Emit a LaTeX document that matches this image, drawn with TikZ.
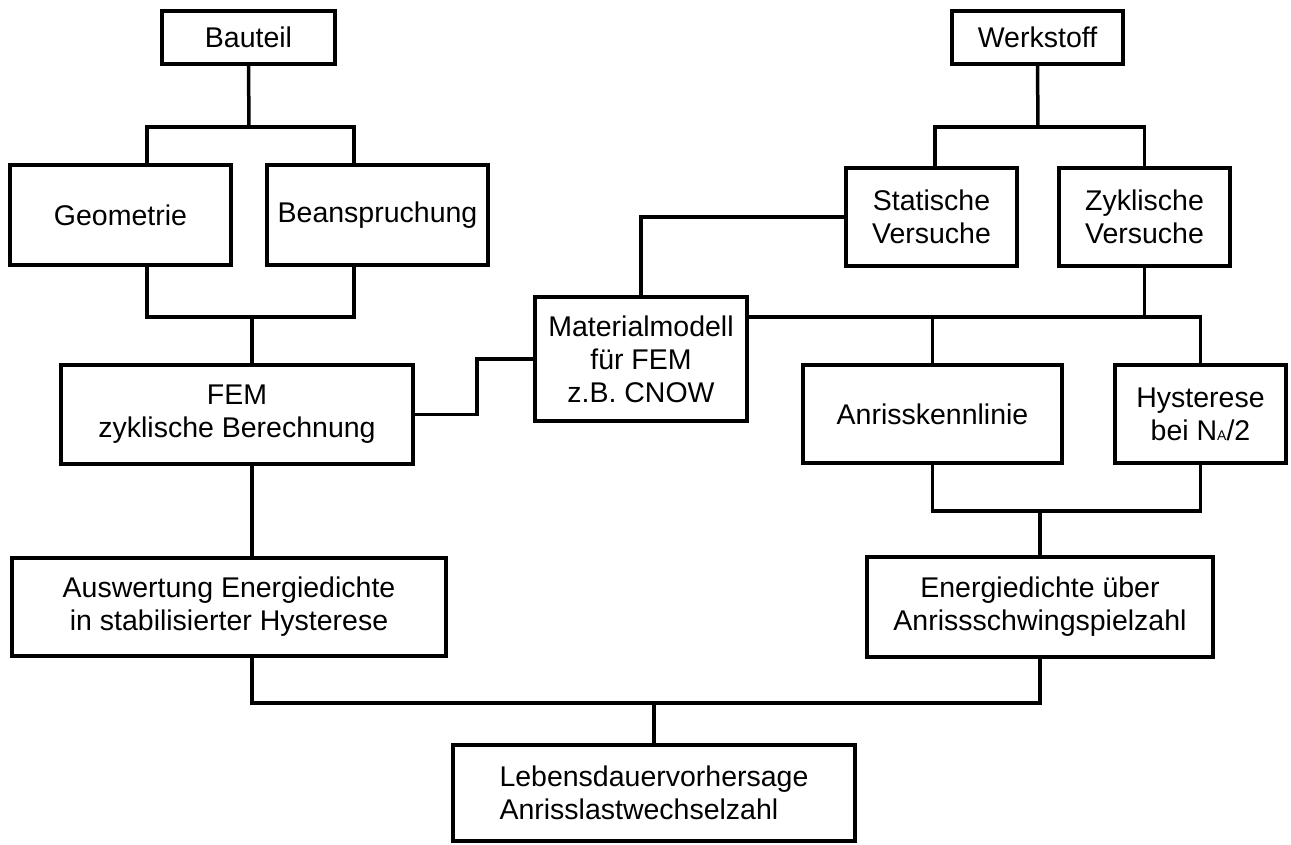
\documentclass[tikz,border=0pt]{standalone}
\usepackage{fontspec}
\setmainfont{Liberation Sans}
\usetikzlibrary{calc}

\newcommand{\smallsub}[1]{\raisebox{-0.6pt}{\fontsize{14}{14}\selectfont #1}}

\begin{document}
\begin{tikzpicture}[
    x=1pt, y=-1pt,
    box/.style={rectangle, draw, line width=3.5pt, align=center, inner sep=0pt, font=\fontsize{28.5}{33}\selectfont},
    link/.style={line width=3.5pt}
]
\useasboundingbox (0,0) rectangle (1291,845);

% Bauteil side
\node[box, minimum width=173pt, minimum height=53pt] (bauteil) at (248.5,37.5) {Bauteil};
\node[box, minimum width=221pt, minimum height=100pt] (geometrie) at (120.5,215) {Geometrie};
\node[box, minimum width=221pt, minimum height=100pt] (beanspruchung) at (377.5,215) {Beanspruchung};
\node[box, minimum width=352pt, minimum height=99pt] (fem) at (237,414.5) {FEM\\zyklische Berechnung};
\node[box, minimum width=434pt, minimum height=98pt] (auswertung) at (229,607) {Auswertung Energiedichte\\in stabilisierter Hysterese};

% Werkstoff side
\node[box, minimum width=171pt, minimum height=53pt] (werkstoff) at (1037.5,37.5) {Werkstoff};
\node[box, minimum width=171pt, minimum height=98pt] (statische) at (931.5,217) {Statische\\Versuche};
\node[box, minimum width=171pt, minimum height=98pt] (zyklische) at (1144.5,217) {Zyklische\\Versuche};
\node[box, minimum width=212pt, minimum height=124pt] (material) at (641,359) {Materialmodell\\f\"ur FEM\\z.B. CNOW};
\node[box, minimum width=259pt, minimum height=98pt] (anriss) at (932.5,414) {Anrisskennlinie};
\node[box, minimum width=171pt, minimum height=98pt] (hysterese) at (1200.5,414) {Hysterese\\bei N\smallsub{A}/2};
\node[box, minimum width=346pt, minimum height=100pt] (energie) at (1040,607) {Energiedichte \"uber\\Anrissschwingspielzahl};

\node[box, align=left, minimum width=402pt, minimum height=96pt] (lebensdauer) at (654,793) {Lebensdauervorhersage\\Anrisslastwechselzahl};

% junctions
\coordinate (jbau) at (249,127);
\coordinate (jgeo) at (252,317);
\coordinate (jwerk) at (1038,127);
\coordinate (jmat) at (1144.5,317);
\coordinate (jana) at (1040,511);
\coordinate (jbot) at (654,703);

% connectors
\draw[link] (bauteil.south) -- (jbau);
\draw[link] (geometrie.north -| 147,0) |- (jbau) -| (beanspruchung.north -| 354,0);
\draw[link] (geometrie.south -| 147,0) |- (jgeo) -| (beanspruchung.south -| 354,0);
\draw[link] (jgeo) -- (fem.north -| jgeo);
\draw[link] (fem.south -| jgeo) -- (auswertung.north -| jgeo);
\draw[link] (fem.east) -- ++(62,0) |- (material.west);

\draw[link] (werkstoff.south) -- (jwerk);
\draw[link] (statische.north -| 935,0) |- (jwerk) -| (zyklische.north);
\draw[link] (material.north) |- (statische.west);
\draw[link] (material.east |- jmat) -- (jmat) -| (hysterese.north);
\draw[link] (zyklische.south) -- (jmat);
\draw[link] (anriss.north) -- (anriss.north |- jmat);
\draw[link] (anriss.south) |- (jana) -| (hysterese.south);
\draw[link] (jana) -- (energie.north);

\draw[link] (auswertung.south -| jgeo) |- (jbot) -| (energie.south);
\draw[link] (jbot) -- (lebensdauer.north);

\end{tikzpicture}
\end{document}
